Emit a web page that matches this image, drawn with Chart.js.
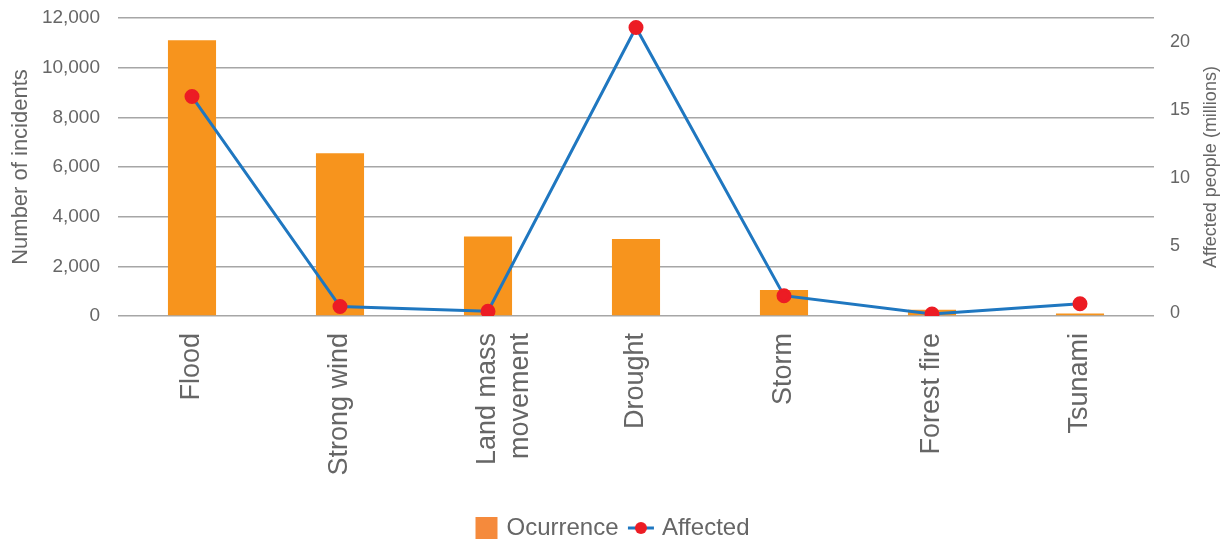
<!DOCTYPE html>
<html>
<head>
<meta charset="utf-8">
<script src="https://cdn.jsdelivr.net/npm/chart.js@4/dist/chart.umd.min.js"></script>
<style>
  html, body { margin: 0; padding: 0; background: #fff; }
  #wrap { width: 1226px; height: 542px; position: relative; }
</style>
</head>
<body>
<div id="wrap"><canvas id="chart"></canvas></div>
<script>
const categories = ['Flood', 'Strong wind', ['Land mass', 'movement'], 'Drought', 'Storm', 'Forest fire', 'Tsunami'];
const occurrence = [11100, 6550, 3200, 3100, 1050, 250, 100];
const affected = [16.0, 0.5, 0.15, 21.1, 1.3, -0.05, 0.7];
const leftTicks = [0, 2000, 4000, 6000, 8000, 10000, 12000];
const rightTicks = [0, 5, 10, 15, 20];

const FONT = '"Liberation Sans", Arial, sans-serif';
const TEXT = '#666666';
const BAR = '#F7941D';
const LINE = '#1F77C0';
const DOT = '#EC1C24';

// legend icons as small canvases
function icon(draw) {
  const c = document.createElement('canvas');
  c.width = 28; c.height = 22;
  draw(c.getContext('2d'));
  return c;
}
const barIcon = icon(ctx => { ctx.fillStyle = '#F58A3C'; ctx.fillRect(4, 0, 22, 22); });
const lineIcon = icon(ctx => {
  ctx.strokeStyle = LINE; ctx.lineWidth = 3;
  ctx.beginPath(); ctx.moveTo(1, 11); ctx.lineTo(27, 11); ctx.stroke();
  ctx.fillStyle = DOT; ctx.beginPath(); ctx.arc(14, 11, 6, 0, Math.PI * 2); ctx.fill();
});

// right axis title reads bottom-to-top like the left one
const rightTitle = {
  id: 'rightTitle',
  afterDraw(chart) {
    const ctx = chart.ctx;
    const area = chart.chartArea;
    ctx.save();
    ctx.translate(1211, (area.top + area.bottom) / 2);
    ctx.rotate(-Math.PI / 2);
    ctx.font = '18px ' + FONT;
    ctx.fillStyle = TEXT;
    ctx.textAlign = 'center';
    ctx.textBaseline = 'middle';
    ctx.fillText('Affected people (millions)', 0, 0);
    ctx.restore();
  }
};

// fixed axis boxes, no extra padding from tick labels
const fixWidth = w => s => { s.width = w; s.paddingTop = 0; s.paddingBottom = 0; };

new Chart(document.getElementById('chart'), {
  data: {
    labels: categories,
    datasets: [
      {
        type: 'line',
        label: 'Affected',
        data: affected,
        yAxisID: 'y2',
        borderColor: LINE,
        borderWidth: 3,
        pointBackgroundColor: DOT,
        pointBorderColor: DOT,
        pointRadius: 6,
        tension: 0,
        order: 0,
      },
      {
        type: 'bar',
        label: 'Ocurrence',
        data: occurrence,
        yAxisID: 'y',
        backgroundColor: BAR,
        categoryPercentage: 1,
        barPercentage: 0.325,
        order: 1,
      },
    ],
  },
  options: {
    responsive: true,
    maintainAspectRatio: false,
    animation: false,
    layout: { autoPadding: false, padding: { top: 18, left: 0, right: 0, bottom: -8 } },
    plugins: {
      tooltip: { enabled: false },
      legend: {
        position: 'bottom',
        labels: {
          font: { size: 24, family: FONT },
          color: TEXT,
          usePointStyle: true,
          boxHeight: 22,
          pointStyleWidth: 18,
          padding: 0,
          generateLabels: () => [
            { text: 'Ocurrence\u00a0\u00a0', pointStyle: barIcon, fillStyle: BAR, strokeStyle: BAR, lineWidth: 0, fontColor: TEXT },
            { text: 'Affected', pointStyle: lineIcon, fillStyle: DOT, strokeStyle: LINE, lineWidth: 0, fontColor: TEXT },
          ],
        },
      },
    },
    scales: {
      x: {
        grid: { display: false },
        border: { display: false },
        ticks: {
          font: { size: 27, family: FONT },
          color: TEXT,
          minRotation: 90,
          maxRotation: 90,
          padding: 9,
          autoSkip: false,
        },
        afterFit: s => { s.height = 200; },
      },
      y: {
        position: 'left',
        min: 0,
        max: 12000,
        afterBuildTicks: s => { s.ticks = leftTicks.map(v => ({ value: v })); },
        grid: { color: '#A6A6A6', lineWidth: 1.5, drawTicks: false },
        border: { display: false },
        ticks: {
          font: { size: 19, family: FONT },
          color: TEXT,
          padding: 18,
          callback: v => v.toLocaleString('en-US'),
        },
        title: {
          display: true,
          text: 'Number of incidents',
          font: { size: 22, family: FONT },
          color: TEXT,
          padding: { top: 8, bottom: 0 },
        },
        afterFit: fixWidth(118),
      },
      y2: {
        position: 'right',
        min: -0.2,
        max: 21.8,
        afterBuildTicks: s => { s.ticks = rightTicks.map(v => ({ value: v })); },
        grid: { display: false },
        border: { display: false },
        ticks: {
          font: { size: 18, family: FONT },
          color: TEXT,
          padding: 8,
        },
        afterFit: fixWidth(72),
      },
    },
  },
  plugins: [rightTitle],
});
</script>
</body>
</html>
